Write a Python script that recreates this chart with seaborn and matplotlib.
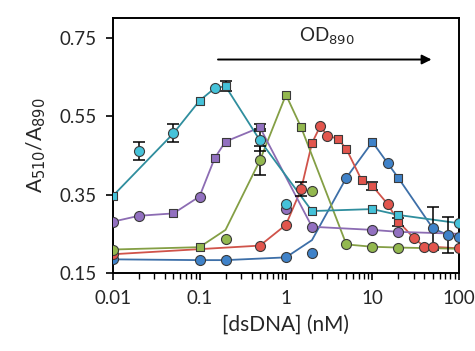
import numpy as np
import pandas as pd
import matplotlib
matplotlib.use("Agg")
import matplotlib.pyplot as plt
import seaborn as sns

# --- data (x in nM, y = A510/A890) ---
cyan_line_x = [0.01, 0.05, 0.1, 0.15, 0.2, 0.5, 2, 10, 20, 100]
cyan_line_y = [0.347, 0.506, 0.589, 0.621, 0.626, 0.488, 0.308, 0.313, 0.298, 0.277]
cyan_sq_x = [0.01, 0.1, 0.2, 2, 10, 20]
cyan_sq_y = [0.347, 0.589, 0.626, 0.308, 0.313, 0.298]
cyan_ci_x = [0.02, 0.05, 0.15, 0.5, 1, 100]
cyan_ci_y = [0.462, 0.506, 0.621, 0.488, 0.326, 0.277]

purple_line_x = [0.01, 0.02, 0.05, 0.1, 0.15, 0.2, 0.5, 2, 10, 20, 100]
purple_line_y = [0.281, 0.296, 0.302, 0.345, 0.443, 0.485, 0.521, 0.268, 0.26, 0.255, 0.25]
purple_sq_x = [0.05, 0.15, 0.2, 0.5]
purple_sq_y = [0.302, 0.443, 0.485, 0.521]
purple_ci_x = [0.01, 0.02, 0.1, 1, 2, 10, 20]
purple_ci_y = [0.281, 0.296, 0.345, 0.313, 0.268, 0.26, 0.255]

green_line_x = [0.01, 0.1, 0.2, 0.5, 1, 1.5, 5, 10, 20, 100]
green_line_y = [0.21, 0.216, 0.26, 0.437, 0.604, 0.521, 0.223, 0.217, 0.215, 0.212]
green_sq_x = [0.1, 1, 1.5]
green_sq_y = [0.216, 0.604, 0.521]
green_ci_x = [0.01, 0.2, 0.5, 2, 5, 10, 20]
green_ci_y = [0.21, 0.236, 0.437, 0.36, 0.223, 0.217, 0.215]

red_line_x = [0.01, 0.5, 1, 1.5, 2, 2.5, 3, 4, 5, 7.5, 10, 15, 20, 30, 40, 50, 100]
red_line_y = [0.198, 0.22, 0.273, 0.364, 0.481, 0.525, 0.50, 0.492, 0.466, 0.387,
              0.372, 0.326, 0.281, 0.24, 0.217, 0.217, 0.213]
red_sq_x = [2, 4, 5, 7.5, 10, 20]
red_sq_y = [0.481, 0.492, 0.466, 0.387, 0.372, 0.281]
red_ci_x = [0.01, 0.5, 1, 1.5, 2.5, 3, 15, 30, 40, 50, 100]
red_ci_y = [0.198, 0.22, 0.273, 0.364, 0.525, 0.50, 0.326, 0.24, 0.217, 0.217, 0.213]

blue_line_x = [0.01, 0.1, 0.2, 1, 2, 5, 10, 15, 20, 50, 75, 100]
blue_line_y = [0.185, 0.183, 0.183, 0.19, 0.234, 0.393, 0.484, 0.43, 0.392, 0.264, 0.247, 0.243]
blue_sq_x = [10, 20]
blue_sq_y = [0.484, 0.392]
blue_ci_x = [0.01, 0.1, 0.2, 1, 2, 5, 15, 50, 75, 100]
blue_ci_y = [0.185, 0.183, 0.183, 0.19, 0.202, 0.393, 0.43, 0.264, 0.247, 0.243]

# error bars: x, y, half-width
err_x = [0.02, 0.05, 0.2, 0.5, 0.5, 0.5, 1.5, 10, 20, 50, 75]
err_y = [0.462, 0.506, 0.626, 0.488, 0.521, 0.437, 0.364, 0.372, 0.281, 0.264, 0.247]
err_e = [0.023, 0.023, 0.012, 0.028, 0.01, 0.037, 0.017, 0.01, 0.01, 0.055, 0.045]

yticks = [0.15, 0.35, 0.55, 0.75]
xticks = [0.01, 0.1, 1, 10, 100]
xticklabels = ["0.01", "0.1", "1", "10", "100"]

series = [
    ("blue", blue_line_x, blue_line_y, blue_sq_x, blue_sq_y, blue_ci_x, blue_ci_y),
    ("red", red_line_x, red_line_y, red_sq_x, red_sq_y, red_ci_x, red_ci_y),
    ("green", green_line_x, green_line_y, green_sq_x, green_sq_y, green_ci_x, green_ci_y),
    ("purple", purple_line_x, purple_line_y, purple_sq_x, purple_sq_y, purple_ci_x, purple_ci_y),
    ("cyan", cyan_line_x, cyan_line_y, cyan_sq_x, cyan_sq_y, cyan_ci_x, cyan_ci_y),
]
line_colors = {"blue": "#3d6fa8", "red": "#d0534a", "green": "#849f45",
               "purple": "#8c6cb3", "cyan": "#2f8e9e"}
fill_colors = {"blue": "#3f82c9", "red": "#e2554d", "green": "#93b84f",
               "purple": "#9270c0", "cyan": "#45c2d9"}

sns.set_theme(style="white")
plt.rcParams['font.family'] = ['Lato', 'DejaVu Sans']

fig = plt.figure(figsize=(4.75, 3.51), dpi=100)
ax = fig.add_axes([0.238, 0.222, 0.728, 0.727])

for name, lx, ly, sx, sy, cx, cy in series:
    sns.lineplot(x=lx, y=ly, ax=ax, color=line_colors[name], linewidth=1.3,
                 sort=False, estimator=None, zorder=2)

ax.errorbar(err_x, err_y, yerr=err_e, fmt="none", ecolor="black",
            elinewidth=1.1, capsize=4, capthick=1.1, zorder=3)

for name, lx, ly, sx, sy, cx, cy in series:
    sns.scatterplot(x=sx, y=sy, ax=ax, marker="s", s=34, color=fill_colors[name],
                    edgecolor="#3a3a3a", linewidth=0.8, zorder=4)
    sns.scatterplot(x=cx, y=cy, ax=ax, marker="o", s=52, color=fill_colors[name],
                    edgecolor="#3a3a3a", linewidth=0.8, zorder=4)

ax.set_xscale("log")
ax.set_xlim(0.01, 100)
ax.set_ylim(0.15, 0.80)
ax.set_xticks(xticks)
ax.set_xticklabels(xticklabels)
ax.set_yticks(yticks)
ax.set_yticklabels([f"{v:.2f}" for v in yticks])
ax.tick_params(axis="both", which="major", direction="out", length=5, width=1.2,
               labelsize=13.5, color="black", pad=7, bottom=True, left=True)
ax.tick_params(axis="x", which="minor", direction="out", length=4, width=1.0,
               color="black", bottom=True)
for sp in ax.spines.values():
    sp.set_color("black")
    sp.set_linewidth(1.4)

ax.set_xlabel("[dsDNA] (nM)", fontsize=15, labelpad=6)
ax.set_ylabel("A$_{510}$/A$_{890}$", fontsize=15, labelpad=8)

ax.annotate("", xy=(52, 0.694), xytext=(0.152, 0.694),
            arrowprops=dict(arrowstyle="-|>", color="black", lw=1.4,
                            mutation_scale=14))
ax.text(3.0, 0.752, "OD$_{890}$", fontsize=13.5, ha="center", va="center")

fig.savefig("out.png", dpi=100)
